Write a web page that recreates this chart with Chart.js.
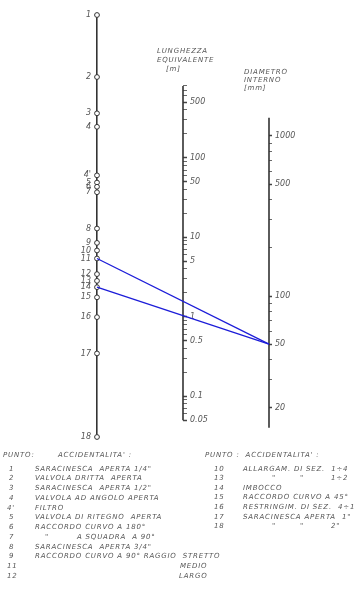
<!DOCTYPE html>
<html lang="it">
<head>
<meta charset="UTF-8">
<title>Nomogramma perdite di carico accidentali</title>
<script src="https://cdn.jsdelivr.net/npm/chart.js@4.4.1/dist/chart.umd.min.js"></script>
<style>
  body { margin: 0; background: #fff; }
  .wrap { position: relative; width: 363px; height: 590px; overflow: hidden; }
  canvas { position: absolute; left: 0; top: 0; }
  .t { position: absolute; font: italic 7px "DejaVu Sans", sans-serif; letter-spacing: 0.8px;
       color: #555; white-space: pre; line-height: 9px; }
</style>
</head>
<body>
<div class="wrap" id="wrap">
  <canvas id="nomo" width="363" height="590"></canvas>
  <div class="t" style="left:157px;top:47px">LUNGHEZZA
EQUIVALENTE
   [m]</div>
  <div class="t" style="left:244px;top:68px;line-height:8px">DIAMETRO
INTERNO
[mm]</div>
</div>
<script>
// scala di sinistra: punti (accidentalita') e loro posizione lungo la scala (0 = in alto, 100 = in basso)
const puntiNomi = ['1', '2', '3', '4', "4'", '5', '6', '7', '8', '9', '10', '11', '12', '13', '14', '15', '16', '17', '18'];
const puntiPos = [0, 14.7, 23.3, 26.5, 38.0, 39.7, 40.7, 42.0, 50.6, 54.0, 55.8, 57.7, 61.4, 63.0, 64.5, 66.9, 71.6, 80.2, 100];

// scala centrale: lunghezza equivalente [m]
const lunghezzaEtichette = [500, 100, 50, 10, 5, 1, 0.5, 0.1, 0.05];
const lunghezzaEstremi = [0.05, 800];

// scala di destra: diametro interno [mm]
const diametroEtichette = [1000, 500, 100, 50, 20];
const diametroEstremi = [15, 1300];

// letture tracciate in blu: punto -> diametro
const letturePunto = ['11', '14'];
const lettureDiametro = [50, 50];

// legenda
const legendaSx = [
  ['1', [[35, 'SARACINESCA  APERTA 1/4"']]],
  ['2', [[35, 'VALVOLA DRITTA  APERTA']]],
  ['3', [[35, 'SARACINESCA  APERTA 1/2"']]],
  ['4', [[35, 'VALVOLA AD ANGOLO APERTA']]],
  ["4'", [[35, 'FILTRO']]],
  ['5', [[35, 'VALVOLA DI RITEGNO  APERTA']]],
  ['6', [[35, 'RACCORDO CURVO A 180°']]],
  ['7', [[45, '"'], [77, 'A SQUADRA  A 90°']]],
  ['8', [[35, 'SARACINESCA  APERTA 3/4"']]],
  ['9', [[35, 'RACCORDO CURVO A 90° RAGGIO  STRETTO']]],
  ['11', [[180, 'MEDIO']]],
  ['12', [[179, 'LARGO']]]
];
const legendaDx = [
  ['10', [[243, 'ALLARGAM. DI SEZ.  1÷4']]],
  ['13', [[272, '"'], [300, '"'], [331, '1÷2']]],
  ['14', [[243, 'IMBOCCO']]],
  ['15', [[243, 'RACCORDO CURVO A 45°']]],
  ['16', [[243, 'RESTRINGIM. DI SEZ.  4÷1']]],
  ['17', [[243, 'SARACINESCA APERTA  1"']]],
  ['18', [[272, '"'], [300, '"'], [331, '2"']]]
];

function tacche(lo, hi) {
  const out = [];
  for (let e = -3; e <= 4; e++) {
    for (let m = 1; m <= 9; m++) {
      const v = +(m * Math.pow(10, e)).toPrecision(3);
      if (v >= lo && v <= hi) out.push(v);
    }
  }
  return out;
}

const testo = { size: 8, style: 'italic', family: '"DejaVu Sans", sans-serif' };
const assi = '#333';

const ctx = document.getElementById('nomo').getContext('2d');
const chart = new Chart(ctx, {
  type: 'scatter',
  data: {
    datasets: [
      { // lettura 1
        yAxisID: 'yP', showLine: true, clip: false, order: 0,
        data: [], borderColor: '#1c1cd8', borderWidth: 1.3, pointRadius: 0
      },
      { // lettura 2
        yAxisID: 'yP', showLine: true, clip: false, order: 0,
        data: [], borderColor: '#1c1cd8', borderWidth: 1.3, pointRadius: 0
      },
      { // punti sulla scala di sinistra
        yAxisID: 'yP', clip: false, order: 1,
        data: puntiPos.map(p => ({ x: 0, y: p })),
        pointRadius: 2.4, pointBackgroundColor: '#fff', pointBorderColor: assi, pointBorderWidth: 1
      },
      { // asse lunghezza
        yAxisID: 'yL', showLine: true, clip: false, order: 2,
        data: lunghezzaEstremi.map(v => ({ x: 1, y: v })),
        borderColor: assi, borderWidth: 1.6, pointRadius: 0
      },
      { // asse diametro
        yAxisID: 'yD', showLine: true, clip: false, order: 2,
        data: diametroEstremi.map(v => ({ x: 2, y: v })),
        borderColor: assi, borderWidth: 1.6, pointRadius: 0
      }
    ]
  },
  options: {
    responsive: false,
    animation: false,
    layout: { padding: { top: 15, bottom: 153, left: 0, right: 0 } },
    plugins: { legend: { display: false }, tooltip: { enabled: false } },
    scales: {
      x: { type: 'linear', min: 0, max: 1, display: false },
      yP: {
        type: 'linear', position: 'left', reverse: true, min: 0, max: 100,
        grid: { drawOnChartArea: false, drawTicks: false },
        border: { display: true, color: assi, width: 1.6 },
        ticks: {
          autoSkip: false, padding: 6, color: '#555', font: testo,
          callback: (v, i) => puntiNomi[i]
        },
        afterBuildTicks: s => { s.ticks = puntiPos.map(v => ({ value: v })); },
        afterFit: s => { s.width = 97; }
      },
      yL: {
        type: 'logarithmic', position: 'right', weight: 0, min: 0.0307, max: 6237,
        grid: {
          drawOnChartArea: false, tickLength: 4, tickColor: '#444',
          tickWidth: c => (c.tick && lunghezzaEtichette.includes(c.tick.value)) ? 1.5 : 0.8
        },
        border: { display: false },
        ticks: {
          autoSkip: false, padding: 3, color: '#555', font: testo,
          callback: v => lunghezzaEtichette.includes(v) ? String(v) : ''
        },
        afterBuildTicks: s => { s.ticks = tacche(lunghezzaEstremi[0], lunghezzaEstremi[1]).map(v => ({ value: v })); },
        afterFit: s => { s.width = 86; }
      },
      yD: {
        type: 'logarithmic', position: 'right', weight: 1, min: 13.15, max: 5702,
        grid: {
          drawOnChartArea: false, tickLength: 3, tickColor: '#444',
          tickWidth: c => (c.tick && diametroEtichette.includes(c.tick.value)) ? 1.5 : 0.8
        },
        border: { display: false },
        ticks: {
          autoSkip: false, padding: 3, color: '#555', font: testo,
          callback: v => diametroEtichette.includes(v) ? String(v) : ''
        },
        afterBuildTicks: s => { s.ticks = tacche(diametroEstremi[0], diametroEstremi[1]).map(v => ({ value: v })); },
        afterFit: s => { s.width = 94; }
      }
    }
  }
});

// asse del diametro e letture: posizioni prese dalle scale del grafico
const sx = chart.scales.x, sP = chart.scales.yP, sD = chart.scales.yD;
const xDiam = sx.getValueForPixel(sD.left);
chart.data.datasets[4].data.forEach(d => { d.x = xDiam; });
letturePunto.forEach((p, i) => {
  chart.data.datasets[i].data = [
    { x: 0, y: puntiPos[puntiNomi.indexOf(p)] },
    { x: xDiam, y: sP.getValueForPixel(sD.getPixelForValue(lettureDiametro[i])) }
  ];
});
chart.update('none');

// legenda sotto il nomogramma
const wrap = document.getElementById('wrap');
function scrivi(x, y, s) {
  const el = document.createElement('div');
  el.className = 't';
  el.style.left = x + 'px';
  el.style.top = y + 'px';
  el.textContent = s;
  wrap.appendChild(el);
}
scrivi(3, 451, 'PUNTO:');
scrivi(58, 451, "ACCIDENTALITA' :");
scrivi(205, 451, "PUNTO :  ACCIDENTALITA' :");
legendaSx.forEach((r, i) => {
  const y = 464.5 + i * 9.75;
  scrivi(r[0].length > 1 ? 7 : 9, y, r[0]);
  r[1].forEach(seg => scrivi(seg[0], y, seg[1]));
});
legendaDx.forEach((r, i) => {
  const y = 464.5 + i * 9.6;
  scrivi(214, y, r[0]);
  r[1].forEach(seg => scrivi(seg[0], y, seg[1]));
});
</script>
</body>
</html>
